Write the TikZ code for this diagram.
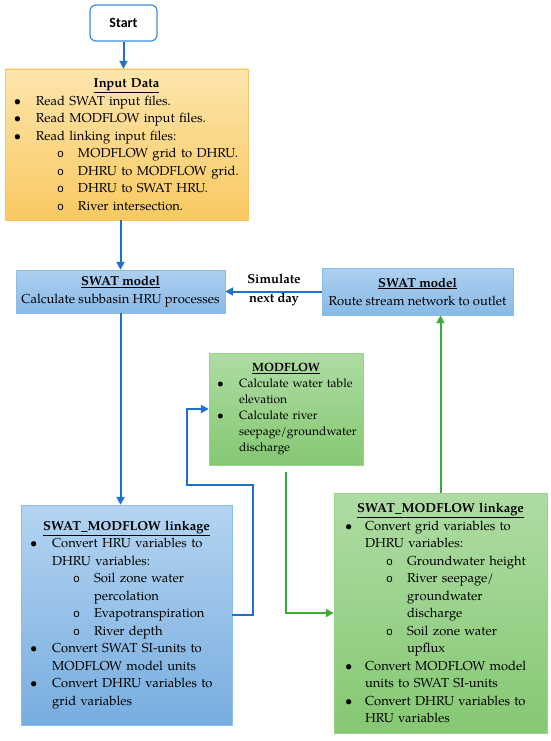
\documentclass[tikz,border=0pt]{standalone}
\usepackage{fontspec}
\setmainfont{TeX Gyre Pagella}
\newfontfamily\startfont{Carlito}
\newfontfamily\ofont{Liberation Mono}
\usepackage{enumitem}
\usetikzlibrary{arrows.meta}
\definecolor{orTop}{HTML}{FDE5AD}
\definecolor{orBot}{HTML}{F9C961}
\definecolor{orEdge}{HTML}{F5C66A}
\definecolor{blTop}{HTML}{B3D4F1}
\definecolor{blBot}{HTML}{78ADDF}
\definecolor{blEdge}{HTML}{8CBDE8}
\definecolor{sbTop}{HTML}{AED0F0}
\definecolor{sbBot}{HTML}{88B9E6}
\definecolor{grTop}{HTML}{AEDCA3}
\definecolor{grBot}{HTML}{85C873}
\definecolor{grEdge}{HTML}{9AD28B}
\definecolor{arBlue}{HTML}{1F6FCC}
\definecolor{arGreen}{HTML}{3DAB37}
\definecolor{startEdge}{HTML}{3A8FD9}
\setlist[itemize,1]{label=\textbullet, nosep, align=left, left=9pt .. 31pt}
\setlist[itemize,2]{label={\ofont\fontsize{11.5}{10}\selectfont o}, nosep, align=left, left=21pt .. 42pt}
\newcommand{\hd}[1]{{\centering\textbf{\underline{#1}}\par}}
\begin{document}
\begin{tikzpicture}[x=1pt,y=-1pt,
  base/.style={inner sep=0pt, text width=#1, align=left, font=\fontsize{13}{17.5}\selectfont},
  inbox/.style={base=#1, draw=orEdge, top color=orTop, bottom color=orBot},
  blbox/.style={base=#1, draw=blEdge, top color=blTop, bottom color=blBot},
  sbbox/.style={inner sep=0pt, draw=blEdge, top color=sbTop, bottom color=sbBot, align=center, font=\fontsize{13}{18}\selectfont},
  grbox/.style={base=#1, draw=grEdge, top color=grTop, bottom color=grBot},
  barrow/.style={draw=arBlue, line width=2pt, -{Triangle[length=8pt,width=8pt]}},
  garrow/.style={draw=arGreen, line width=2pt, -{Triangle[length=8pt,width=8pt]}}
]
\useasboundingbox[fill=white] (0,0) rectangle (550,741);

\node[draw=startEdge, line width=1.2pt, rounded corners=6pt, fill=white, minimum width=67pt, minimum height=36pt, font=\startfont\bfseries\fontsize{14}{16}\selectfont] (start) at (123.5,23) {Start};

\node[inbox=243pt, minimum height=151pt] (input) at (126.5,144.5) {\raggedright
\hd{Input Data}
\begin{itemize}
\item Read SWAT input files.
\item Read MODFLOW input files.
\item Read linking input files:
  \begin{itemize}
  \item MODFLOW grid to DHRU.
  \item DHRU to MODFLOW grid.
  \item DHRU to SWAT HRU.
  \item River intersection.
  \end{itemize}
\end{itemize}};

\node[sbbox, minimum width=209pt, minimum height=43pt] (swatL) at (120.5,291.5) {\textbf{\underline{SWAT model}}\\Calculate subbasin HRU processes};
\node[sbbox, minimum width=191pt, minimum height=47pt] (swatR) at (417.5,291.5) {\textbf{\underline{SWAT model}}\\Route stream network to outlet};
\node[font=\bfseries\fontsize{13}{19}\selectfont, align=center, inner sep=0pt] (sim) at (274,290.5) {Simulate\\next day};

\node[grbox=154pt, minimum height=112pt, font=\fontsize{12}{16}\selectfont] (modflow) at (286,409) {\raggedright
\hd{MODFLOW}
\begin{itemize}[left=8pt .. 30pt]
\item Calculate water table\newline elevation
\item Calculate river\newline seepage/groundwater\newline discharge
\end{itemize}};

\node[blbox=211pt, minimum height=220pt] (linkL) at (126.5,615) {\raggedright
\hd{SWAT\_MODFLOW linkage}
\begin{itemize}
\item Convert HRU variables to\newline DHRU variables:
  \begin{itemize}
  \item Soil zone water\newline percolation
  \item Evapotranspiration
  \item River depth
  \end{itemize}
\item Convert SWAT SI-units to\newline MODFLOW model units
\item Convert DHRU variables to\newline grid variables
\end{itemize}};

\node[grbox=213pt, minimum height=240pt] (linkR) at (440.5,613) {\raggedright
\hd{SWAT\_MODFLOW linkage}
\begin{itemize}[left=11pt .. 31pt]
\item Convert grid variables to\newline DHRU variables:
  \begin{itemize}
  \item Groundwater height
  \item River seepage/\newline groundwater\newline discharge
  \item Soil zone water\newline upflux
  \end{itemize}
\item Convert MODFLOW model\newline units to SWAT SI-units
\item Convert DHRU variables to\newline HRU variables
\end{itemize}};

\draw[barrow] (start.south) -- (start.south |- input.north);
\draw[barrow] (swatL.north |- input.south) -- (swatL.north);
\draw[barrow] (swatR.west) -- (swatL.east);
\draw[barrow] (swatL.south) -- (swatL.south |- linkL.north);
\draw[barrow] (linkL.east) -| ++(21,-130) -| ([xshift=-22pt]modflow.west) -- (modflow.west);
\draw[garrow] ([yshift=-7pt]modflow.south) |- (linkR.west);
\draw[garrow] (linkR.north) -- (linkR.north |- swatR.south);
\end{tikzpicture}
\end{document}
